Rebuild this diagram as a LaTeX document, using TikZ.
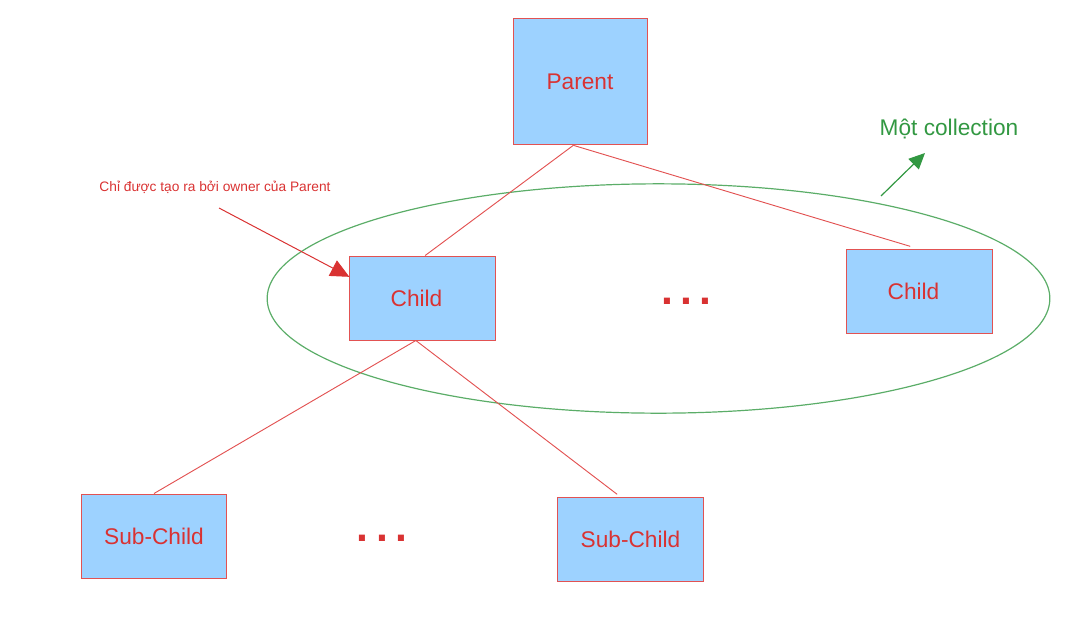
\documentclass[tikz,border=0pt]{standalone}
\usepackage{fontspec}
\setmainfont{Liberation Sans}
\usetikzlibrary{arrows.meta,shapes,positioning}
\definecolor{boxblue}{RGB}{157,210,255}
\definecolor{linered}{RGB}{226,82,82}
\definecolor{textred}{RGB}{217,50,50}
\definecolor{collgreen}{RGB}{50,152,66}
\tikzset{
  basic/.style  = {draw=linered, fill=boxblue, text=textred, line width=0.75pt,
                   font=\fontsize{17}{19}\selectfont, rectangle, inner sep=0pt},
  parent box/.style = {basic, minimum width=100.5pt, minimum height=95pt},
  child box/.style  = {basic, minimum width=109pt, minimum height=63pt},
  link/.style   = {draw=linered, line width=0.7pt},
  dots/.style   = {text=textred, anchor=base, inner sep=0pt,
                   font=\fontsize{32}{32}\selectfont\bfseries},
  coll/.style   = {draw=collgreen!80, ellipse, line width=0.9pt, inner sep=0pt,
                   minimum width=587pt, minimum height=172pt}
}

\begin{document}
\begin{tikzpicture}[x=0.75pt,y=-0.75pt]
\useasboundingbox (0,0) rectangle (1084,632);
% nodes
\node[parent box] (parent) at (580,81.5) {Parent};
\node[child box] (child1) at (422.5,298) {\hspace*{-9pt}Child};
\node[child box] (child2) at (919.5,291.5) {\hspace*{-9pt}Child};
\node[child box] (sub1) at (154,536) {Sub-Child};
\node[child box] (sub2) at (630.5,539.5) {Sub-Child};
\node[dots] (dots1) at (686.5,304) {.\hspace{5.5pt}.\hspace{5.5pt}.};
\node[dots] (dots2) at (382,541) {.\hspace{5.5pt}.\hspace{5.5pt}.};
\node[coll] (coll) at (658.5,298.5) {};
% links
\draw[link] ([xshift=-5pt]parent.south) -- ([xshift=2pt]child1.north);
\draw[link] ([xshift=-5pt]parent.south) -- ([xshift=-7pt,yshift=2pt]child2.north);
\draw[link] ([xshift=-5pt]child1.south) -- (sub1.north);
\draw[link] ([xshift=-5pt]child1.south) -- ([xshift=-10pt,yshift=2pt]sub2.north);
% notes
\node[text=textred, font=\fontsize{10.3}{12}\selectfont, anchor=base] (note) at (215,191)
  {Chỉ được tạo ra bởi owner của Parent};
\coordinate (notestart) at (219,208);
\draw[draw=textred, line width=0.75pt, -{Triangle[length=14pt,width=13pt]}]
  (notestart) -- ([yshift=-16pt]child1.north west);
\node[text=collgreen, font=\fontsize{17}{19}\selectfont, anchor=base] (colllabel) at (949,135)
  {Một collection};
\coordinate (collstart) at (881,196);
\coordinate (colltip) at (925,153);
\draw[draw=collgreen, line width=0.9pt, -{Triangle[length=12pt,width=11pt]}]
  (collstart) -- (colltip);
\end{tikzpicture}
\end{document}
